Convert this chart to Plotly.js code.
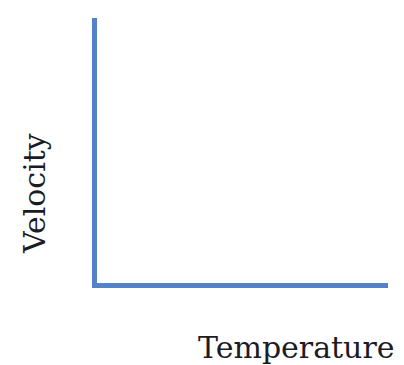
<!DOCTYPE html>
<html>
<head>
<meta charset="utf-8">
<script src="https://cdn.plot.ly/plotly-3.0.1.min.js"></script>
<style>html,body{margin:0;padding:0;background:#fff;}#chart{width:404px;height:365px;}</style>
</head>
<body>
<div id="chart"></div>
<script>
// Schematic axes only: no data series are plotted in the reference.
const temperature = [];
const velocity = [];
const xRange = [0, 1];
const yRange = [0, 1];
const xLabel = "Temperature";
const yLabel = "Velocity";

const axisColor = "#5581c8";
const textFont = {family: "DejaVu Serif, Liberation Serif, serif", size: 30, color: "#1b1b24"};

const data = [{x: temperature, y: velocity, type: "scatter", mode: "lines", showlegend: false, hoverinfo: "skip"}];

const layout = {
  width: 404, height: 365,
  margin: {l: 97, r: 16, t: 18, b: 82, pad: 0},
  paper_bgcolor: "#ffffff", plot_bgcolor: "#ffffff",
  showlegend: false,
  xaxis: {range: xRange, showline: true, linewidth: 5, linecolor: axisColor, showgrid: false, zeroline: false, showticklabels: false, ticks: "", fixedrange: true},
  yaxis: {range: yRange, showline: true, linewidth: 5, linecolor: axisColor, showgrid: false, zeroline: false, showticklabels: false, ticks: "", fixedrange: true},
  annotations: [
    {text: xLabel, xref: "paper", yref: "paper", x: 0.686, y: -0.245, xanchor: "center", yanchor: "middle", showarrow: false, font: textFont},
    {text: yLabel, xref: "paper", yref: "paper", x: -0.213, y: 0.336, xanchor: "center", yanchor: "middle", textangle: -90, showarrow: false, font: textFont}
  ]
};

Plotly.newPlot("chart", data, layout, {displayModeBar: false, staticPlot: true});
</script>
</body>
</html>
